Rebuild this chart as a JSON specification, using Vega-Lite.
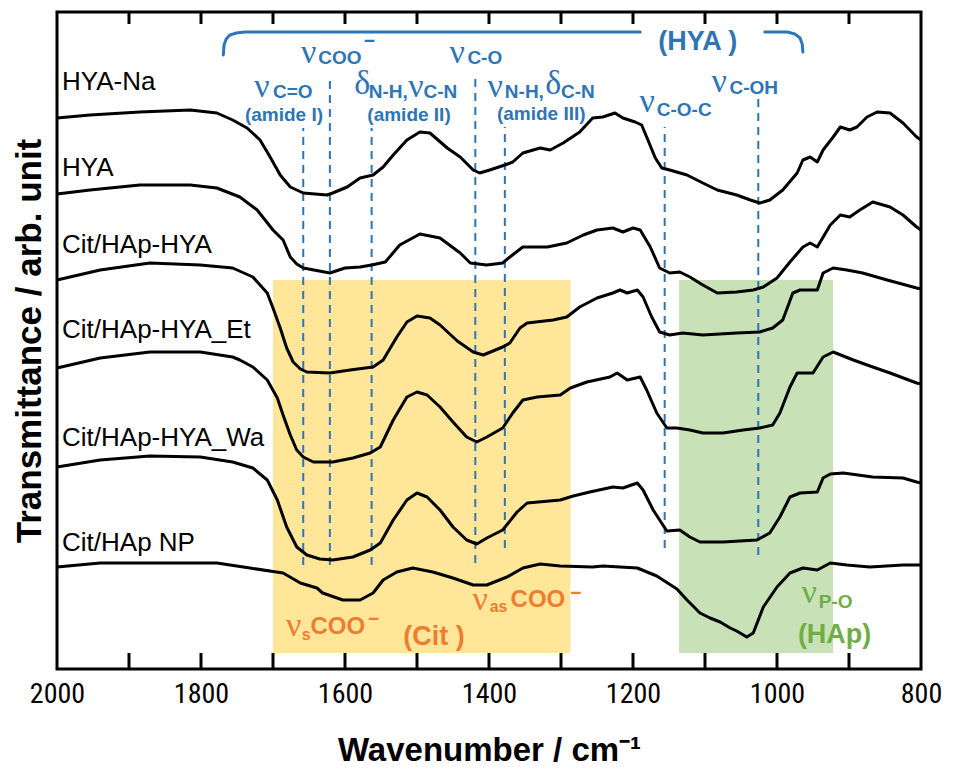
{
  "$schema": "https://vega.github.io/schema/vega-lite/v6.json",
  "width": 864,
  "height": 657,
  "autosize": {"type": "none"},
  "padding": {"left": 57, "top": 12, "right": 33, "bottom": 100},
  "background": "white",
  "config": {"view": {"stroke": "black", "strokeWidth": 3}},
  "datasets": {
    "bands": [
      {"band": "Cit", "w1": 1700, "w2": 1287, "t1": 16, "t2": 389},
      {"band": "HAp", "w1": 1136, "w2": 922, "t1": 16, "t2": 389}
    ],
    "ticks": [
      {"w": 1900, "t1": 645, "t2": 657}, {"w": 1800, "t1": 645, "t2": 657}, {"w": 1700, "t1": 645, "t2": 657},
      {"w": 1600, "t1": 645, "t2": 657}, {"w": 1500, "t1": 645, "t2": 657}, {"w": 1400, "t1": 645, "t2": 657},
      {"w": 1300, "t1": 645, "t2": 657}, {"w": 1200, "t1": 645, "t2": 657}, {"w": 1100, "t1": 645, "t2": 657},
      {"w": 1000, "t1": 645, "t2": 657}, {"w": 900, "t1": 645, "t2": 657},
      {"w": 1900, "t1": 0, "t2": 16}, {"w": 1800, "t1": 0, "t2": 16}, {"w": 1700, "t1": 0, "t2": 16},
      {"w": 1600, "t1": 0, "t2": 16}, {"w": 1500, "t1": 0, "t2": 16}, {"w": 1400, "t1": 0, "t2": 16},
      {"w": 1300, "t1": 0, "t2": 16}, {"w": 1200, "t1": 0, "t2": 16}, {"w": 1100, "t1": 0, "t2": 16},
      {"w": 1000, "t1": 0, "t2": 16}, {"w": 900, "t1": 0, "t2": 16}
    ],
    "marks": [
      {"w": 1658, "t1": 104, "t2": 541},
      {"w": 1621, "t1": 104, "t2": 593},
      {"w": 1563, "t1": 104, "t2": 541},
      {"w": 1419, "t1": 106, "t2": 596},
      {"w": 1378, "t1": 121, "t2": 542},
      {"w": 1156, "t1": 121, "t2": 542},
      {"w": 1026, "t1": 114, "t2": 571}
    ],
    "bracket": [
      {"part": "L", "w": 1769, "t": 614}, {"part": "L", "w": 1768, "t": 624}, {"part": "L", "w": 1765, "t": 630},
      {"part": "L", "w": 1760, "t": 634}, {"part": "L", "w": 1751, "t": 636}, {"part": "L", "w": 1739, "t": 637},
      {"part": "L", "w": 1190, "t": 637},
      {"part": "R", "w": 1017, "t": 637}, {"part": "R", "w": 985, "t": 637}, {"part": "R", "w": 975, "t": 635},
      {"part": "R", "w": 968, "t": 631}, {"part": "R", "w": 965, "t": 625}, {"part": "R", "w": 964, "t": 617}
    ],
    "names": [
      {"s": "HYA-Na", "w": 1993, "t": 587},
      {"s": "HYA", "w": 1993, "t": 501},
      {"s": "Cit/HAp-HYA", "w": 1993, "t": 424},
      {"s": "Cit/HAp-HYA_Et", "w": 1993, "t": 339},
      {"s": "Cit/HAp-HYA_Wa", "w": 1993, "t": 231},
      {"s": "Cit/HAp NP", "w": 1993, "t": 126}
    ],
    "notes": [
      {"text": "ν", "w": 1661, "t": 616, "band": "HYA", "role": "g"},
      {"text": "ν", "w": 1726, "t": 582, "band": "HYA", "role": "g"},
      {"text": "δ", "w": 1587, "t": 585, "band": "HYA", "role": "g"},
      {"text": "ν", "w": 1512, "t": 582, "band": "HYA", "role": "g"},
      {"text": "ν", "w": 1455, "t": 616, "band": "HYA", "role": "g"},
      {"text": "ν", "w": 1402, "t": 582, "band": "HYA", "role": "g"},
      {"text": "δ", "w": 1322, "t": 585, "band": "HYA", "role": "g"},
      {"text": "ν", "w": 1191, "t": 567, "band": "HYA", "role": "g"},
      {"text": "ν", "w": 1091, "t": 587, "band": "HYA", "role": "g"},
      {"text": "ν", "w": 1682, "t": 43, "band": "Cit", "role": "g"},
      {"text": "ν", "w": 1423, "t": 69, "band": "Cit", "role": "g"},
      {"text": "ν", "w": 966, "t": 76, "band": "HAp", "role": "g"},
      {"text": "COO", "w": 1637, "t": 611, "band": "HYA", "role": "sub"},
      {"text": "C=O", "w": 1700, "t": 577, "band": "HYA", "role": "sub"},
      {"text": "N-H,", "w": 1567, "t": 577, "band": "HYA", "role": "sub"},
      {"text": "C-N", "w": 1491, "t": 577, "band": "HYA", "role": "sub"},
      {"text": "C-O", "w": 1430, "t": 611, "band": "HYA", "role": "sub"},
      {"text": "N-H,", "w": 1378, "t": 577, "band": "HYA", "role": "sub"},
      {"text": "C-N", "w": 1300, "t": 577, "band": "HYA", "role": "sub"},
      {"text": "C-O-C", "w": 1167, "t": 559, "band": "HYA", "role": "sub"},
      {"text": "C-OH", "w": 1066, "t": 581, "band": "HYA", "role": "sub"},
      {"text": "P-O", "w": 942, "t": 67, "band": "HAp", "role": "sub"},
      {"text": "s", "w": 1660, "t": 34, "band": "Cit", "role": "sub2"},
      {"text": "as", "w": 1399, "t": 62, "band": "Cit", "role": "sub2"},
      {"text": "−", "w": 1574, "t": 628, "band": "HYA", "role": "sup"},
      {"text": "−", "w": 1568, "t": 50, "band": "Cit", "role": "sup"},
      {"text": "−", "w": 1287, "t": 76, "band": "Cit", "role": "sup"},
      {"text": "(amide I)", "w": 1739, "t": 554, "band": "HYA", "role": "note"},
      {"text": "(amide II)", "w": 1569, "t": 554, "band": "HYA", "role": "note"},
      {"text": "(amide III)", "w": 1389, "t": 555, "band": "HYA", "role": "note"},
      {"text": "(HYA )", "w": 1165, "t": 627, "band": "HYA", "role": "big"},
      {"text": "COO", "w": 1648, "t": 42, "band": "Cit", "role": "mid"},
      {"text": "(Cit )", "w": 1519, "t": 32, "band": "Cit", "role": "big"},
      {"text": "COO", "w": 1370, "t": 69, "band": "Cit", "role": "mid"},
      {"text": "(HAp)", "w": 971, "t": 34, "band": "HAp", "role": "big"}
    ],
    "spectra": [
      {"s":"HYA-Na","w":2000,"t":551},{"s":"HYA-Na","w":1954,"t":554},{"s":"HYA-Na","w":1885,"t":557},{"s":"HYA-Na","w":1815,"t":559},{"s":"HYA-Na","w":1778,"t":556},{"s":"HYA-Na","w":1756,"t":549},{"s":"HYA-Na","w":1736,"t":541},{"s":"HYA-Na","w":1718,"t":529},{"s":"HYA-Na","w":1704,"t":512},{"s":"HYA-Na","w":1690,"t":494},{"s":"HYA-Na","w":1676,"t":482},{"s":"HYA-Na","w":1658,"t":476},{"s":"HYA-Na","w":1625,"t":474},{"s":"HYA-Na","w":1617,"t":476},{"s":"HYA-Na","w":1597,"t":482},{"s":"HYA-Na","w":1579,"t":491},{"s":"HYA-Na","w":1561,"t":494},{"s":"HYA-Na","w":1547,"t":502},{"s":"HYA-Na","w":1533,"t":514},{"s":"HYA-Na","w":1514,"t":529},{"s":"HYA-Na","w":1496,"t":537},{"s":"HYA-Na","w":1482,"t":536},{"s":"HYA-Na","w":1458,"t":521},{"s":"HYA-Na","w":1440,"t":512},{"s":"HYA-Na","w":1422,"t":499},{"s":"HYA-Na","w":1413,"t":496},{"s":"HYA-Na","w":1399,"t":499},{"s":"HYA-Na","w":1378,"t":504},{"s":"HYA-Na","w":1367,"t":507},{"s":"HYA-Na","w":1353,"t":516},{"s":"HYA-Na","w":1329,"t":521},{"s":"HYA-Na","w":1315,"t":519},{"s":"HYA-Na","w":1297,"t":526},{"s":"HYA-Na","w":1274,"t":537},{"s":"HYA-Na","w":1256,"t":551},{"s":"HYA-Na","w":1242,"t":552},{"s":"HYA-Na","w":1225,"t":556},{"s":"HYA-Na","w":1214,"t":551},{"s":"HYA-Na","w":1197,"t":547},{"s":"HYA-Na","w":1188,"t":544},{"s":"HYA-Na","w":1181,"t":532},{"s":"HYA-Na","w":1169,"t":511},{"s":"HYA-Na","w":1160,"t":501},{"s":"HYA-Na","w":1149,"t":499},{"s":"HYA-Na","w":1125,"t":494},{"s":"HYA-Na","w":1103,"t":486},{"s":"HYA-Na","w":1083,"t":479},{"s":"HYA-Na","w":1056,"t":474},{"s":"HYA-Na","w":1037,"t":469},{"s":"HYA-Na","w":1024,"t":466},{"s":"HYA-Na","w":1010,"t":469},{"s":"HYA-Na","w":992,"t":479},{"s":"HYA-Na","w":972,"t":496},{"s":"HYA-Na","w":964,"t":509},{"s":"HYA-Na","w":954,"t":512},{"s":"HYA-Na","w":944,"t":507},{"s":"HYA-Na","w":936,"t":519},{"s":"HYA-Na","w":922,"t":532},{"s":"HYA-Na","w":912,"t":542},{"s":"HYA-Na","w":899,"t":539},{"s":"HYA-Na","w":889,"t":542},{"s":"HYA-Na","w":875,"t":552},{"s":"HYA-Na","w":861,"t":557},{"s":"HYA-Na","w":843,"t":556},{"s":"HYA-Na","w":825,"t":546},{"s":"HYA-Na","w":806,"t":532},{"s":"HYA-Na","w":800,"t":529},
      {"s":"HYA","w":2000,"t":475},{"s":"HYA","w":1954,"t":479},{"s":"HYA","w":1885,"t":484},{"s":"HYA","w":1815,"t":484},{"s":"HYA","w":1778,"t":481},{"s":"HYA","w":1746,"t":472},{"s":"HYA","w":1722,"t":459},{"s":"HYA","w":1700,"t":439},{"s":"HYA","w":1686,"t":429},{"s":"HYA","w":1676,"t":412},{"s":"HYA","w":1667,"t":405},{"s":"HYA","w":1658,"t":401},{"s":"HYA","w":1621,"t":396},{"s":"HYA","w":1600,"t":401},{"s":"HYA","w":1579,"t":402},{"s":"HYA","w":1563,"t":404},{"s":"HYA","w":1544,"t":407},{"s":"HYA","w":1524,"t":424},{"s":"HYA","w":1496,"t":435},{"s":"HYA","w":1468,"t":431},{"s":"HYA","w":1440,"t":416},{"s":"HYA","w":1426,"t":406},{"s":"HYA","w":1403,"t":404},{"s":"HYA","w":1381,"t":406},{"s":"HYA","w":1371,"t":412},{"s":"HYA","w":1353,"t":422},{"s":"HYA","w":1319,"t":422},{"s":"HYA","w":1292,"t":426},{"s":"HYA","w":1269,"t":434},{"s":"HYA","w":1250,"t":439},{"s":"HYA","w":1228,"t":441},{"s":"HYA","w":1214,"t":437},{"s":"HYA","w":1200,"t":441},{"s":"HYA","w":1190,"t":439},{"s":"HYA","w":1176,"t":422},{"s":"HYA","w":1163,"t":401},{"s":"HYA","w":1149,"t":396},{"s":"HYA","w":1135,"t":397},{"s":"HYA","w":1121,"t":392},{"s":"HYA","w":1103,"t":384},{"s":"HYA","w":1083,"t":376},{"s":"HYA","w":1056,"t":377},{"s":"HYA","w":1033,"t":379},{"s":"HYA","w":1019,"t":382},{"s":"HYA","w":1000,"t":391},{"s":"HYA","w":982,"t":407},{"s":"HYA","w":964,"t":422},{"s":"HYA","w":954,"t":426},{"s":"HYA","w":944,"t":422},{"s":"HYA","w":926,"t":444},{"s":"HYA","w":912,"t":454},{"s":"HYA","w":899,"t":452},{"s":"HYA","w":885,"t":459},{"s":"HYA","w":867,"t":467},{"s":"HYA","w":843,"t":462},{"s":"HYA","w":825,"t":454},{"s":"HYA","w":806,"t":442},{"s":"HYA","w":800,"t":439},
      {"s":"Cit/HAp-HYA","w":2000,"t":389},{"s":"Cit/HAp-HYA","w":1940,"t":399},{"s":"Cit/HAp-HYA","w":1871,"t":406},{"s":"Cit/HAp-HYA","w":1801,"t":404},{"s":"Cit/HAp-HYA","w":1756,"t":401},{"s":"Cit/HAp-HYA","w":1728,"t":392},{"s":"Cit/HAp-HYA","w":1708,"t":376},{"s":"Cit/HAp-HYA","w":1700,"t":361},{"s":"Cit/HAp-HYA","w":1690,"t":341},{"s":"Cit/HAp-HYA","w":1681,"t":321},{"s":"Cit/HAp-HYA","w":1672,"t":307},{"s":"Cit/HAp-HYA","w":1662,"t":300},{"s":"Cit/HAp-HYA","w":1653,"t":297},{"s":"Cit/HAp-HYA","w":1621,"t":296},{"s":"Cit/HAp-HYA","w":1593,"t":299},{"s":"Cit/HAp-HYA","w":1561,"t":302},{"s":"Cit/HAp-HYA","w":1547,"t":309},{"s":"Cit/HAp-HYA","w":1528,"t":332},{"s":"Cit/HAp-HYA","w":1514,"t":347},{"s":"Cit/HAp-HYA","w":1500,"t":353},{"s":"Cit/HAp-HYA","w":1482,"t":351},{"s":"Cit/HAp-HYA","w":1468,"t":344},{"s":"Cit/HAp-HYA","w":1444,"t":328},{"s":"Cit/HAp-HYA","w":1422,"t":317},{"s":"Cit/HAp-HYA","w":1408,"t":314},{"s":"Cit/HAp-HYA","w":1381,"t":322},{"s":"Cit/HAp-HYA","w":1371,"t":326},{"s":"Cit/HAp-HYA","w":1357,"t":341},{"s":"Cit/HAp-HYA","w":1347,"t":346},{"s":"Cit/HAp-HYA","w":1311,"t":349},{"s":"Cit/HAp-HYA","w":1292,"t":352},{"s":"Cit/HAp-HYA","w":1274,"t":362},{"s":"Cit/HAp-HYA","w":1250,"t":371},{"s":"Cit/HAp-HYA","w":1228,"t":376},{"s":"Cit/HAp-HYA","w":1218,"t":379},{"s":"Cit/HAp-HYA","w":1208,"t":376},{"s":"Cit/HAp-HYA","w":1194,"t":379},{"s":"Cit/HAp-HYA","w":1186,"t":372},{"s":"Cit/HAp-HYA","w":1174,"t":352},{"s":"Cit/HAp-HYA","w":1163,"t":337},{"s":"Cit/HAp-HYA","w":1149,"t":334},{"s":"Cit/HAp-HYA","w":1131,"t":336},{"s":"Cit/HAp-HYA","w":1103,"t":334},{"s":"Cit/HAp-HYA","w":1056,"t":336},{"s":"Cit/HAp-HYA","w":1024,"t":337},{"s":"Cit/HAp-HYA","w":1006,"t":341},{"s":"Cit/HAp-HYA","w":992,"t":349},{"s":"Cit/HAp-HYA","w":978,"t":376},{"s":"Cit/HAp-HYA","w":968,"t":379},{"s":"Cit/HAp-HYA","w":944,"t":379},{"s":"Cit/HAp-HYA","w":936,"t":396},{"s":"Cit/HAp-HYA","w":922,"t":401},{"s":"Cit/HAp-HYA","w":903,"t":399},{"s":"Cit/HAp-HYA","w":881,"t":396},{"s":"Cit/HAp-HYA","w":847,"t":389},{"s":"Cit/HAp-HYA","w":806,"t":381},{"s":"Cit/HAp-HYA","w":800,"t":380},
      {"s":"Cit/HAp-HYA_Et","w":2000,"t":301},{"s":"Cit/HAp-HYA_Et","w":1940,"t":311},{"s":"Cit/HAp-HYA_Et","w":1871,"t":317},{"s":"Cit/HAp-HYA_Et","w":1801,"t":317},{"s":"Cit/HAp-HYA_Et","w":1756,"t":312},{"s":"Cit/HAp-HYA_Et","w":1746,"t":309},{"s":"Cit/HAp-HYA_Et","w":1728,"t":302},{"s":"Cit/HAp-HYA_Et","w":1708,"t":289},{"s":"Cit/HAp-HYA_Et","w":1694,"t":271},{"s":"Cit/HAp-HYA_Et","w":1686,"t":254},{"s":"Cit/HAp-HYA_Et","w":1676,"t":234},{"s":"Cit/HAp-HYA_Et","w":1667,"t":219},{"s":"Cit/HAp-HYA_Et","w":1658,"t":212},{"s":"Cit/HAp-HYA_Et","w":1644,"t":207},{"s":"Cit/HAp-HYA_Et","w":1617,"t":207},{"s":"Cit/HAp-HYA_Et","w":1589,"t":211},{"s":"Cit/HAp-HYA_Et","w":1565,"t":216},{"s":"Cit/HAp-HYA_Et","w":1551,"t":222},{"s":"Cit/HAp-HYA_Et","w":1533,"t":249},{"s":"Cit/HAp-HYA_Et","w":1514,"t":272},{"s":"Cit/HAp-HYA_Et","w":1500,"t":277},{"s":"Cit/HAp-HYA_Et","w":1486,"t":274},{"s":"Cit/HAp-HYA_Et","w":1468,"t":262},{"s":"Cit/HAp-HYA_Et","w":1450,"t":247},{"s":"Cit/HAp-HYA_Et","w":1431,"t":232},{"s":"Cit/HAp-HYA_Et","w":1417,"t":227},{"s":"Cit/HAp-HYA_Et","w":1403,"t":232},{"s":"Cit/HAp-HYA_Et","w":1381,"t":241},{"s":"Cit/HAp-HYA_Et","w":1367,"t":256},{"s":"Cit/HAp-HYA_Et","w":1353,"t":269},{"s":"Cit/HAp-HYA_Et","w":1333,"t":272},{"s":"Cit/HAp-HYA_Et","w":1301,"t":274},{"s":"Cit/HAp-HYA_Et","w":1287,"t":281},{"s":"Cit/HAp-HYA_Et","w":1264,"t":287},{"s":"Cit/HAp-HYA_Et","w":1232,"t":292},{"s":"Cit/HAp-HYA_Et","w":1222,"t":296},{"s":"Cit/HAp-HYA_Et","w":1208,"t":289},{"s":"Cit/HAp-HYA_Et","w":1190,"t":292},{"s":"Cit/HAp-HYA_Et","w":1181,"t":279},{"s":"Cit/HAp-HYA_Et","w":1167,"t":256},{"s":"Cit/HAp-HYA_Et","w":1153,"t":241},{"s":"Cit/HAp-HYA_Et","w":1139,"t":241},{"s":"Cit/HAp-HYA_Et","w":1121,"t":239},{"s":"Cit/HAp-HYA_Et","w":1103,"t":236},{"s":"Cit/HAp-HYA_Et","w":1075,"t":236},{"s":"Cit/HAp-HYA_Et","w":1047,"t":239},{"s":"Cit/HAp-HYA_Et","w":1024,"t":241},{"s":"Cit/HAp-HYA_Et","w":1006,"t":244},{"s":"Cit/HAp-HYA_Et","w":996,"t":256},{"s":"Cit/HAp-HYA_Et","w":982,"t":282},{"s":"Cit/HAp-HYA_Et","w":972,"t":296},{"s":"Cit/HAp-HYA_Et","w":950,"t":296},{"s":"Cit/HAp-HYA_Et","w":936,"t":312},{"s":"Cit/HAp-HYA_Et","w":922,"t":317},{"s":"Cit/HAp-HYA_Et","w":894,"t":309},{"s":"Cit/HAp-HYA_Et","w":867,"t":302},{"s":"Cit/HAp-HYA_Et","w":843,"t":296},{"s":"Cit/HAp-HYA_Et","w":806,"t":286},{"s":"Cit/HAp-HYA_Et","w":800,"t":285},
      {"s":"Cit/HAp-HYA_Wa","w":2000,"t":202},{"s":"Cit/HAp-HYA_Wa","w":1940,"t":209},{"s":"Cit/HAp-HYA_Wa","w":1871,"t":213},{"s":"Cit/HAp-HYA_Wa","w":1801,"t":212},{"s":"Cit/HAp-HYA_Wa","w":1756,"t":207},{"s":"Cit/HAp-HYA_Wa","w":1728,"t":201},{"s":"Cit/HAp-HYA_Wa","w":1708,"t":189},{"s":"Cit/HAp-HYA_Wa","w":1694,"t":169},{"s":"Cit/HAp-HYA_Wa","w":1681,"t":142},{"s":"Cit/HAp-HYA_Wa","w":1667,"t":122},{"s":"Cit/HAp-HYA_Wa","w":1653,"t":114},{"s":"Cit/HAp-HYA_Wa","w":1635,"t":110},{"s":"Cit/HAp-HYA_Wa","w":1617,"t":109},{"s":"Cit/HAp-HYA_Wa","w":1589,"t":112},{"s":"Cit/HAp-HYA_Wa","w":1565,"t":119},{"s":"Cit/HAp-HYA_Wa","w":1551,"t":126},{"s":"Cit/HAp-HYA_Wa","w":1533,"t":149},{"s":"Cit/HAp-HYA_Wa","w":1514,"t":169},{"s":"Cit/HAp-HYA_Wa","w":1500,"t":176},{"s":"Cit/HAp-HYA_Wa","w":1486,"t":172},{"s":"Cit/HAp-HYA_Wa","w":1468,"t":159},{"s":"Cit/HAp-HYA_Wa","w":1450,"t":142},{"s":"Cit/HAp-HYA_Wa","w":1431,"t":129},{"s":"Cit/HAp-HYA_Wa","w":1417,"t":125},{"s":"Cit/HAp-HYA_Wa","w":1403,"t":131},{"s":"Cit/HAp-HYA_Wa","w":1381,"t":139},{"s":"Cit/HAp-HYA_Wa","w":1361,"t":157},{"s":"Cit/HAp-HYA_Wa","w":1347,"t":166},{"s":"Cit/HAp-HYA_Wa","w":1301,"t":169},{"s":"Cit/HAp-HYA_Wa","w":1283,"t":173},{"s":"Cit/HAp-HYA_Wa","w":1260,"t":177},{"s":"Cit/HAp-HYA_Wa","w":1228,"t":182},{"s":"Cit/HAp-HYA_Wa","w":1214,"t":181},{"s":"Cit/HAp-HYA_Wa","w":1194,"t":186},{"s":"Cit/HAp-HYA_Wa","w":1186,"t":179},{"s":"Cit/HAp-HYA_Wa","w":1172,"t":159},{"s":"Cit/HAp-HYA_Wa","w":1153,"t":138},{"s":"Cit/HAp-HYA_Wa","w":1135,"t":139},{"s":"Cit/HAp-HYA_Wa","w":1121,"t":132},{"s":"Cit/HAp-HYA_Wa","w":1107,"t":127},{"s":"Cit/HAp-HYA_Wa","w":1075,"t":127},{"s":"Cit/HAp-HYA_Wa","w":1028,"t":129},{"s":"Cit/HAp-HYA_Wa","w":1010,"t":136},{"s":"Cit/HAp-HYA_Wa","w":996,"t":152},{"s":"Cit/HAp-HYA_Wa","w":982,"t":172},{"s":"Cit/HAp-HYA_Wa","w":968,"t":176},{"s":"Cit/HAp-HYA_Wa","w":944,"t":177},{"s":"Cit/HAp-HYA_Wa","w":936,"t":191},{"s":"Cit/HAp-HYA_Wa","w":926,"t":195},{"s":"Cit/HAp-HYA_Wa","w":908,"t":196},{"s":"Cit/HAp-HYA_Wa","w":867,"t":192},{"s":"Cit/HAp-HYA_Wa","w":825,"t":191},{"s":"Cit/HAp-HYA_Wa","w":806,"t":187},{"s":"Cit/HAp-HYA_Wa","w":800,"t":186},
      {"s":"Cit/HAp NP","w":2000,"t":102},{"s":"Cit/HAp NP","w":1940,"t":106},{"s":"Cit/HAp NP","w":1847,"t":106},{"s":"Cit/HAp NP","w":1778,"t":106},{"s":"Cit/HAp NP","w":1732,"t":101},{"s":"Cit/HAp NP","w":1686,"t":96},{"s":"Cit/HAp NP","w":1662,"t":86},{"s":"Cit/HAp NP","w":1639,"t":81},{"s":"Cit/HAp NP","w":1631,"t":76},{"s":"Cit/HAp NP","w":1603,"t":69},{"s":"Cit/HAp NP","w":1579,"t":69},{"s":"Cit/HAp NP","w":1561,"t":76},{"s":"Cit/HAp NP","w":1547,"t":89},{"s":"Cit/HAp NP","w":1528,"t":97},{"s":"Cit/HAp NP","w":1506,"t":101},{"s":"Cit/HAp NP","w":1478,"t":97},{"s":"Cit/HAp NP","w":1450,"t":91},{"s":"Cit/HAp NP","w":1422,"t":84},{"s":"Cit/HAp NP","w":1403,"t":84},{"s":"Cit/HAp NP","w":1375,"t":92},{"s":"Cit/HAp NP","w":1353,"t":101},{"s":"Cit/HAp NP","w":1329,"t":105},{"s":"Cit/HAp NP","w":1301,"t":103},{"s":"Cit/HAp NP","w":1256,"t":102},{"s":"Cit/HAp NP","w":1242,"t":103},{"s":"Cit/HAp NP","w":1194,"t":101},{"s":"Cit/HAp NP","w":1167,"t":93},{"s":"Cit/HAp NP","w":1139,"t":80},{"s":"Cit/HAp NP","w":1125,"t":69},{"s":"Cit/HAp NP","w":1107,"t":56},{"s":"Cit/HAp NP","w":1093,"t":51},{"s":"Cit/HAp NP","w":1079,"t":47},{"s":"Cit/HAp NP","w":1065,"t":41},{"s":"Cit/HAp NP","w":1056,"t":38},{"s":"Cit/HAp NP","w":1042,"t":32},{"s":"Cit/HAp NP","w":1033,"t":36},{"s":"Cit/HAp NP","w":1019,"t":62},{"s":"Cit/HAp NP","w":1000,"t":82},{"s":"Cit/HAp NP","w":982,"t":96},{"s":"Cit/HAp NP","w":964,"t":101},{"s":"Cit/HAp NP","w":944,"t":99},{"s":"Cit/HAp NP","w":926,"t":106},{"s":"Cit/HAp NP","w":903,"t":104},{"s":"Cit/HAp NP","w":871,"t":102},{"s":"Cit/HAp NP","w":825,"t":104},{"s":"Cit/HAp NP","w":800,"t":104}
    ]
  },
  "layer": [
    {
      "data": {"name": "bands"},
      "mark": {"type": "rect"},
      "encoding": {
        "x": {
          "field": "w1", "type": "quantitative",
          "scale": {"domain": [800, 2000], "reverse": true, "nice": false, "zero": false},
          "axis": {
            "orient": "bottom",
            "values": [2000, 1900, 1800, 1700, 1600, 1500, 1400, 1300, 1200, 1100, 1000, 900, 800],
            "labelExpr": "datum.value % 200 === 0 ? datum.label : ''",
            "format": "d",
            "ticks": false,
            "labelPadding": 11, "labelFont": "Liberation Sans Narrow, Roboto Condensed, Liberation Sans",
            "labelFontSize": 28, "labelColor": "black", "labelFlush": false, "labelOverlap": false,
            "domain": false, "grid": false,
            "title": "Wavenumber / cm⁻¹", "titleFont": "Liberation Sans", "titleFontSize": 33,
            "titleFontWeight": "bold", "titleColor": "black", "titleY": 91, "titleBaseline": "alphabetic"
          }
        },
        "x2": {"field": "w2"},
        "y": {
          "field": "t1", "type": "quantitative",
          "scale": {"domain": [0, 657], "nice": false, "zero": false},
          "axis": {
            "orient": "left", "labels": false, "ticks": false, "domain": false, "grid": false,
            "title": "Transmittance / arb. unit", "titleFont": "Liberation Sans", "titleFontSize": 35,
            "titleFontWeight": "bold", "titleColor": "black", "titlePadding": 10
          }
        },
        "y2": {"field": "t2"},
        "fill": {"field": "band", "type": "nominal", "scale": {"domain": ["Cit", "HAp"], "range": ["#FFE699", "#C9E1B7"]}, "legend": null}
      }
    },
    {
      "data": {"name": "ticks"},
      "mark": {"type": "rule", "color": "black", "strokeWidth": 3},
      "encoding": {
        "x": {"field": "w", "type": "quantitative"},
        "y": {"field": "t1", "type": "quantitative"},
        "y2": {"field": "t2"}
      }
    },
    {
      "data": {"name": "marks"},
      "mark": {"type": "rule", "color": "#2E75B6", "strokeWidth": 2, "strokeDash": [8, 6]},
      "encoding": {
        "x": {"field": "w", "type": "quantitative"},
        "y": {"field": "t1", "type": "quantitative"},
        "y2": {"field": "t2"}
      }
    },
    {
      "data": {"name": "spectra"},
      "mark": {"type": "line", "color": "black", "strokeWidth": 3, "strokeJoin": "round"},
      "encoding": {
        "x": {"field": "w", "type": "quantitative"},
        "y": {"field": "t", "type": "quantitative"},
        "detail": {"field": "s", "type": "nominal"}
      }
    },
    {
      "data": {"name": "bracket"},
      "mark": {"type": "line", "color": "#2E75B6", "strokeWidth": 3, "strokeCap": "round"},
      "encoding": {
        "x": {"field": "w", "type": "quantitative"},
        "y": {"field": "t", "type": "quantitative"},
        "detail": {"field": "part", "type": "nominal"}
      }
    },
    {
      "data": {"name": "names"},
      "mark": {"type": "text", "align": "left", "baseline": "middle", "font": "Liberation Sans", "fontSize": 26, "color": "black"},
      "encoding": {
        "x": {"field": "w", "type": "quantitative"},
        "y": {"field": "t", "type": "quantitative"},
        "text": {"field": "s"}
      }
    },
    {
      "data": {"name": "notes"},
      "transform": [{"filter": "datum.role === 'g'"}],
      "mark": {"type": "text", "align": "left", "baseline": "middle", "font": "Liberation Serif", "fontSize": 34},
      "encoding": {
        "x": {"field": "w", "type": "quantitative"},
        "y": {"field": "t", "type": "quantitative"},
        "text": {"field": "text"},
        "color": {"field": "band", "type": "nominal", "scale": {"domain": ["HYA", "Cit", "HAp"], "range": ["#2E75B6", "#ED7D31", "#70AD47"]}, "legend": null}
      }
    },
    {
      "data": {"name": "notes"},
      "transform": [{"filter": "datum.role === 'sub' || datum.role === 'sup'"}],
      "mark": {"type": "text", "align": "left", "baseline": "middle", "font": "Liberation Sans", "fontSize": 19, "fontWeight": "bold"},
      "encoding": {
        "x": {"field": "w", "type": "quantitative"},
        "y": {"field": "t", "type": "quantitative"},
        "text": {"field": "text"},
        "color": {"field": "band", "type": "nominal", "legend": null}
      }
    },
    {
      "data": {"name": "notes"},
      "transform": [{"filter": "datum.role === 'sub2'"}],
      "mark": {"type": "text", "align": "left", "baseline": "middle", "font": "Liberation Sans", "fontSize": 16, "fontWeight": "bold"},
      "encoding": {
        "x": {"field": "w", "type": "quantitative"},
        "y": {"field": "t", "type": "quantitative"},
        "text": {"field": "text"},
        "color": {"field": "band", "type": "nominal", "legend": null}
      }
    },
    {
      "data": {"name": "notes"},
      "transform": [{"filter": "datum.role === 'note'"}],
      "mark": {"type": "text", "align": "left", "baseline": "middle", "font": "Liberation Sans", "fontSize": 19, "fontWeight": "bold"},
      "encoding": {
        "x": {"field": "w", "type": "quantitative"},
        "y": {"field": "t", "type": "quantitative"},
        "text": {"field": "text"},
        "color": {"field": "band", "type": "nominal", "legend": null}
      }
    },
    {
      "data": {"name": "notes"},
      "transform": [{"filter": "datum.role === 'mid'"}],
      "mark": {"type": "text", "align": "left", "baseline": "middle", "font": "Liberation Sans", "fontSize": 24, "fontWeight": "bold"},
      "encoding": {
        "x": {"field": "w", "type": "quantitative"},
        "y": {"field": "t", "type": "quantitative"},
        "text": {"field": "text"},
        "color": {"field": "band", "type": "nominal", "legend": null}
      }
    },
    {
      "data": {"name": "notes"},
      "transform": [{"filter": "datum.role === 'big'"}],
      "mark": {"type": "text", "align": "left", "baseline": "middle", "font": "Liberation Sans", "fontSize": 27, "fontWeight": "bold"},
      "encoding": {
        "x": {"field": "w", "type": "quantitative"},
        "y": {"field": "t", "type": "quantitative"},
        "text": {"field": "text"},
        "color": {"field": "band", "type": "nominal", "legend": null}
      }
    }
  ]
}
